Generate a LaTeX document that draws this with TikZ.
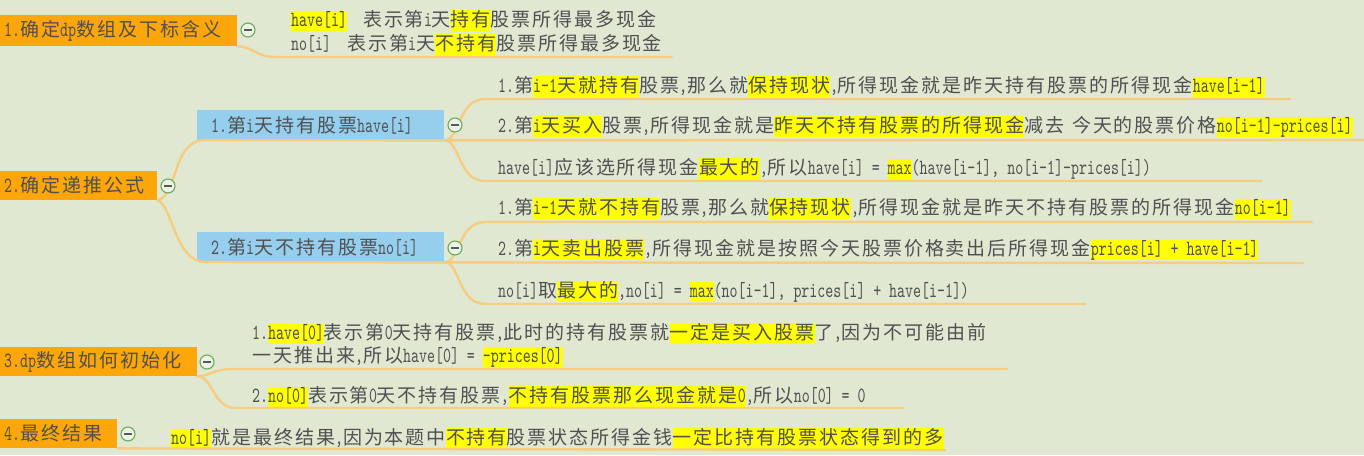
\documentclass[tikz,border=0pt]{standalone}
\usepackage{fontspec}
\newfontfamily\cjkf{Noto Sans CJK SC}[LetterSpace=10.5]
\newfontfamily\latf{lmmono10-regular.otf}[FakeStretch=0.7]
\newcommand\cjkset{\fontsize{19}{24}\cjkf}
\newcommand\EN[1]{{\fontsize{21.7}{24}\latf #1}}
\definecolor{bgC}{RGB}{224,232,210}
\definecolor{orangeC}{RGB}{252,166,10}
\definecolor{blueC}{RGB}{150,206,238}
\definecolor{hly}{RGB}{255,255,0}
\definecolor{txt}{RGB}{80,80,80}
\definecolor{connC}{RGB}{246,204,128}
\definecolor{togG}{RGB}{110,170,90}
\definecolor{togF}{RGB}{236,242,230}
\newcommand\hl[1]{{\setlength{\fboxsep}{0pt}\colorbox{hly}{\rule[-5pt]{0pt}{20pt}#1}}}
\begin{document}
\begin{tikzpicture}[x=1pt,y=-1pt,font=\cjkset,
  obox/.style={fill=orangeC, anchor=north west, inner xsep=4pt, inner ysep=0pt, text=txt, align=left},
  bbox/.style={fill=blueC, anchor=north west, inner xsep=14pt, inner ysep=0pt, text=txt, align=left},
  item/.style={anchor=base west, inner sep=0pt, text=txt},
  tog/.style={circle, draw=togG, fill=togF, line width=1.1pt, minimum size=14pt, inner sep=0pt,
    path picture={\draw[line width=1.1pt, draw=black!65] ([xshift=-4pt]path picture bounding box.center) -- ([xshift=4pt]path picture bounding box.center);}},
  conn/.style={draw=connC, line width=2.4pt, line cap=round}]
\useasboundingbox (0,0) rectangle (1364,455);
\clip (0,0) rectangle (1364,455);
\fill[bgC] (0,0) rectangle (1364,455);

% main boxes
\node[obox, text width=229pt, minimum height=31pt] (b1) at (0,15) {\EN{1.}确定\EN{dp}数组及下标含义};
\node[obox, text width=149pt, minimum height=29pt] (b2) at (0,171) {\EN{2.}确定递推公式};
\node[obox, text width=189pt, minimum height=29pt] (b3) at (0,347) {\EN{3.dp}数组如何初始化};
\node[obox, text width=109pt, minimum height=29pt] (b4) at (0,419) {\EN{4.}最终结果};
\node[bbox, text width=219pt, minimum height=30pt] (bl1) at (197,110) {\EN{1.}第\EN{i}天持有股票\EN{have[i]}};
\node[bbox, text width=219pt, minimum height=30pt] (bl2) at (197,232) {\EN{2.}第\EN{i}天不持有股票\EN{no[i]}};

% texts
\node[item] (t1a) at (291,26) {\hl{\EN{have[i]}}\hspace{16pt}表示第\EN{i}天\hl{持有}股票所得最多现金};
\node[item] (t1b) at (291,50) {\EN{no[i]}\hspace{16pt}表示第\EN{i}天\hl{不持有}股票所得最多现金};

\node[item] (h1) at (498,92) {\EN{1.}第\hl{\EN{i-1}天就持有}股票\EN{,}那么就\hl{保持现状}\EN{,}所得现金就是昨天持有股票的所得现金\hl{\EN{have[i-1]}}};
\node[item] (h2) at (498,132) {\EN{2.}第\hl{\EN{i}天买入}股票\EN{,}所得现金就是\hl{昨天不持有股票的所得现金}减去\hspace{8pt}今天的股票价格\hl{\EN{no[i-1]-prices[i]}}};
\node[item] (h3) at (498,174) {\EN{have[i]}应该选所得现金\hl{最大的}\EN{,}所以\EN{have[i] = }\hl{\EN{max}}\EN{(have[i-1], no[i-1]-prices[i])}};

\node[item] (n1) at (498,214) {\EN{1.}第\hl{\EN{i-1}天就不持有}股票\EN{,}那么就\hl{保持现状}\EN{,}所得现金就是昨天不持有股票的所得现金\hl{\EN{no[i-1]}}};
\node[item] (n2) at (498,255) {\EN{2.}第\hl{\EN{i}天卖出股票}\EN{,}所得现金就是按照今天股票价格卖出后所得现金\hl{\EN{prices[i] + have[i-1]}}};
\node[item] (n3) at (498,297) {\EN{no[i]}取\hl{最大的}\EN{,no[i] = }\hl{\EN{max}}\EN{(no[i-1], prices[i] + have[i-1])}};

\node[item] (i1a) at (252,339) {\EN{1.}\hl{\EN{have[0]}}表示第\EN{0}天持有股票\EN{,}此时的持有股票就\hl{一定是买入股票}了\EN{,}因为不可能由前};
\node[item] (i1b) at (252,362) {一天推出来\EN{,}所以\EN{have[0] = }\hl{\EN{-prices[0]}}};
\node[item] (i2) at (252,402) {\EN{2.}\hl{\EN{no[0]}}表示第\EN{0}天不持有股票\EN{,}\hl{不持有股票那么现金就是\EN{0}}\EN{,}所以\EN{no[0] = 0}};

\node[item] (f1) at (171,444) {\hl{\EN{no[i]}}就是最终结果\EN{,}因为本题中\hl{不持有}股票状态所得金钱\hl{一定比持有股票状态得到的多}};

% end points of underlines
\coordinate (e1) at (672,57);
\coordinate (eh1) at (1290,99);
\coordinate (eh2) at (1380,140);
\coordinate (eh3) at (1262,181);
\coordinate (en1) at (1312,222);
\coordinate (en2) at (1303,263);
\coordinate (en3) at (1085,304);
\coordinate (ei1) at (1007,369);
\coordinate (ei2) at (903,408);
\coordinate (ef) at (945,450);

% connectors
\draw[conn] (b1.south east) .. controls (252,46) and (256,57) .. (275,57) -- (e1);
\draw[conn] (b2.south east) .. controls (178,196) and (172,140) .. (205,140) -- (bl1.south east);
\draw[conn] (b2.south east) .. controls (172,204) and (175,262) .. (205,262) -- (bl2.south east);
\draw[conn] (bl1.south east) .. controls (460,140) and (458,99) .. (485,99) -- (eh1);
\draw[conn] (bl1.south east) -- (eh2);
\draw[conn] (bl1.south east) .. controls (460,140) and (458,181) .. (485,181) -- (eh3);
\draw[conn] (bl2.south east) .. controls (460,262) and (458,222) .. (485,222) -- (en1);
\draw[conn] (bl2.south east) -- (en2);
\draw[conn] (bl2.south east) .. controls (460,262) and (458,304) .. (485,304) -- (en3);
\draw[conn] (b3.south east) .. controls (210,376) and (214,369) .. (232,369) -- (ei1);
\draw[conn] (b3.south east) .. controls (212,376) and (214,408) .. (235,408) -- (ei2);
\draw[conn] (b4.south east) -- (ef);

% toggles
\node[tog] (g1) at (248,30) {};
\node[tog] (g2) at (168,186) {};
\node[tog] (g3) at (455,125) {};
\node[tog] (g4) at (455,248) {};
\node[tog] (g5) at (207,362) {};
\node[tog] (g6) at (128,434) {};
\end{tikzpicture}
\end{document}
